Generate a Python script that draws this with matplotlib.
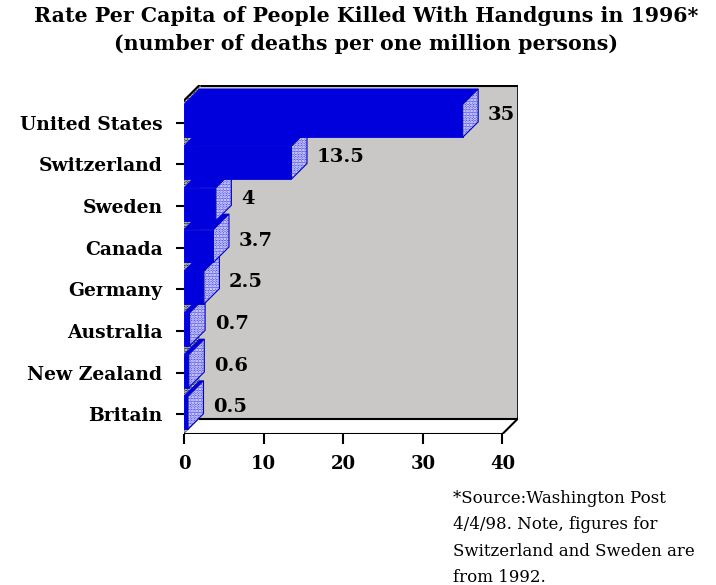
import matplotlib
matplotlib.use("Agg")
import matplotlib.pyplot as plt
from matplotlib.patches import Polygon

categories = ["Britain", "New Zealand", "Australia", "Germany", "Canada", "Sweden", "Switzerland", "United States"]
values = [0.5, 0.6, 0.7, 2.5, 3.7, 4, 13.5, 35]
value_labels = ["0.5", "0.6", "0.7", "2.5", "3.7", "4", "13.5", "35"]
xticks = [0, 10, 20, 30, 40]

title = "Rate Per Capita of People Killed With Handguns in 1996*\n(number of deaths per one million persons)"
footnote = "*Source:Washington Post\n4/4/98. Note, figures for\nSwitzerland and Sweden are\nfrom 1992."

BLUE = "#0000DD"
SIDE = "#5050EA"
GRAY = "#C9C8C6"
W, H = 716, 585

plt.rcParams["hatch.linewidth"] = 1.3

fig = plt.figure(figsize=(W / 100, H / 100), dpi=100)
ax_l, ax_r, ax_t, ax_b = 184, 518, 85, 434
ax = fig.add_axes([ax_l / W, (H - ax_b) / H, (ax_r - ax_l) / W, (ax_b - ax_t) / H])

xmax = 40
px_per_x = (502 - 184) / 40.0
px_per_y = 41.71
dx = 15.5 / px_per_x
dy = 15.5 / px_per_y
y0, y1 = -0.47, 7.53
bar_h = 0.79
bar_off = 0.04

ax.set_xlim(0, xmax + dx)
ax.set_ylim(y0, y1 + dy)

# back wall
ax.add_patch(Polygon([(dx, y0 + dy), (xmax + dx, y0 + dy), (xmax + dx, y1 + dy), (dx, y1 + dy)],
                     closed=True, facecolor=GRAY, edgecolor="none", zorder=1))
ax.plot([dx, xmax + dx], [y1 + dy, y1 + dy], color="black", lw=2.2, zorder=2, solid_capstyle="butt")
ax.plot([xmax + dx, xmax + dx], [y0 + dy, y1 + dy], color="black", lw=1.2, zorder=2)
# floor
ax.add_patch(Polygon([(0, y0), (xmax, y0), (xmax + dx, y0 + dy), (dx, y0 + dy)],
                     closed=True, facecolor="white", edgecolor="none", zorder=1))
ax.plot([dx, xmax + dx], [y0 + dy, y0 + dy], color="black", lw=1.5, zorder=2)
ax.plot([0, xmax, xmax + dx], [y0, y0, y0 + dy], color="black", lw=1.5, zorder=2)
# left wall (hatched, mostly hidden by bars)
wall = [(0, y0), (dx, y0 + dy), (dx, y1 + dy), (0, y1)]
ax.add_patch(Polygon(wall, closed=True, facecolor="#222222", edgecolor="white",
                     hatch="......", lw=0, zorder=1.5))
ax.plot([0, dx], [y1, y1 + dy], color="black", lw=1.5, zorder=2)

for i, (v, lab) in enumerate(zip(values, value_labels)):
    c = i + bar_off
    b, t = c - bar_h / 2, c + bar_h / 2
    z = 3 + i * 0.1
    # front face
    ax.add_patch(Polygon([(0, b), (v, b), (v, t), (0, t)], closed=True,
                         facecolor=BLUE, edgecolor=BLUE, lw=0.6, zorder=z))
    # top face
    ax.add_patch(Polygon([(0, t), (v, t), (v + dx, t + dy), (dx, t + dy)], closed=True,
                         facecolor=BLUE, edgecolor=BLUE, lw=0.6, zorder=z))
    # side face (hatched)
    side = [(v, b), (v + dx, b + dy), (v + dx, t + dy), (v, t)]
    ax.add_patch(Polygon(side, closed=True, facecolor=SIDE, edgecolor="white",
                         hatch="......", lw=0, zorder=z + 0.01))
    ax.add_patch(Polygon(side, closed=True, facecolor="none", edgecolor=BLUE, lw=0.8, zorder=z + 0.02))
    ax.annotate(lab, xy=(v + dx, c + dy * 0.35), xytext=(7, 0), textcoords="offset points",
                ha="left", va="center", fontsize=14, fontweight="bold", family="DejaVu Serif",
                color="black", zorder=10)

for s in ax.spines.values():
    s.set_visible(False)
ax.set_yticks(range(len(categories)))
ax.set_yticklabels(categories, fontsize=13.5, fontweight="bold", family="DejaVu Serif")
ax.set_xticks(xticks)
ax.set_xticklabels([str(x) for x in xticks], fontsize=13, fontweight="bold", family="DejaVu Serif")
ax.tick_params(axis="y", length=6, width=1.5, pad=9.5, color="black")
ax.tick_params(axis="x", length=7, width=1.5, pad=8, color="black")

fig.text(366 / W, 1 - 6 / H, title, ha="center", va="top", fontsize=14.8, fontweight="bold",
         family="DejaVu Serif", linespacing=1.5)
fig.text(453 / W, 1 - 490 / H, footnote, ha="left", va="top", fontsize=12, family="DejaVu Serif",
         linespacing=1.72)

fig.savefig("out.png", dpi=100)
